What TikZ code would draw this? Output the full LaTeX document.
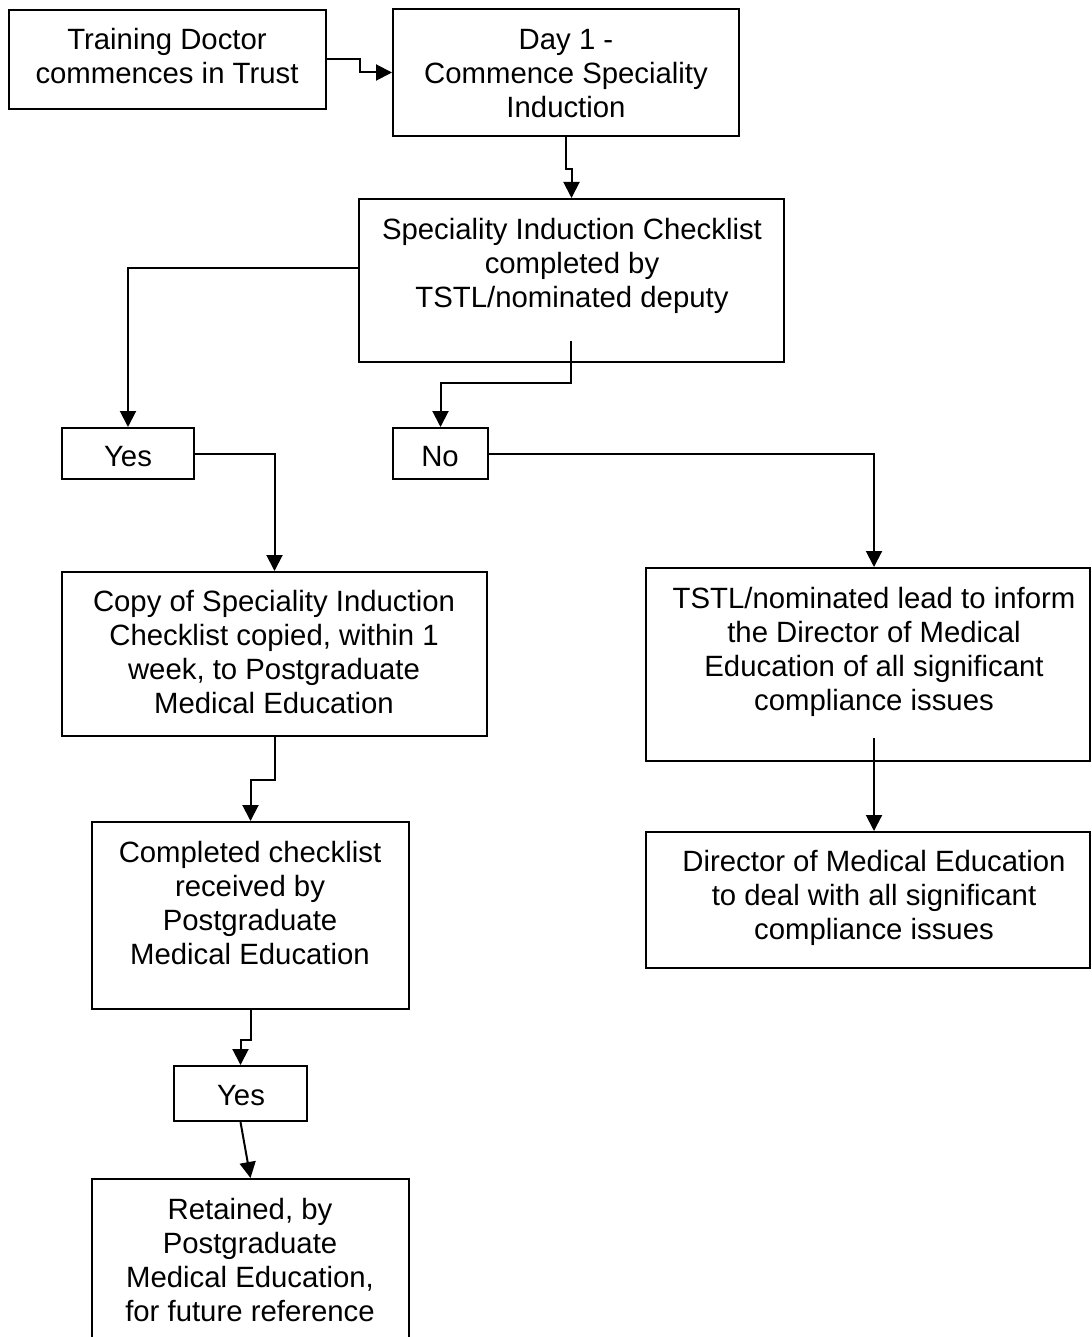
\documentclass[tikz,border=0pt]{standalone}
\usepackage{fontspec}
\setmainfont{Liberation Sans}
\usetikzlibrary{arrows.meta}
\tikzset{
  box/.style={draw=black, line width=1.5pt, rectangle, inner sep=0pt},
  txt/.style={align=center, inner sep=0pt, anchor=north, font=\fontsize{22}{25.5}\selectfont, yshift=-1.5pt},
  arr/.style={draw=black, line width=1.5pt, -{Triangle[length=12pt,width=12pt]}},
  ln/.style={draw=black, line width=1.5pt}
}
\begin{document}
\begin{tikzpicture}[x=0.75pt,y=-0.75pt]
\useasboundingbox (0,0) rectangle (1091,1337);
\clip (0,0) rectangle (1091,1337);
% boxes
\node[box, minimum width=317*0.75pt, minimum height=99*0.75pt] (train) at (167.5,59.5) {};
\node[box, minimum width=346*0.75pt, minimum height=127*0.75pt] (day1) at (566,72.5) {};
\node[box, minimum width=425*0.75pt, minimum height=163*0.75pt] (check) at (571.5,280.5) {};
\node[box, minimum width=132*0.75pt, minimum height=51*0.75pt] (yes1) at (128,453.5) {};
\node[box, minimum width=95*0.75pt, minimum height=51*0.75pt] (no) at (440.5,453.5) {};
\node[box, minimum width=425*0.75pt, minimum height=164*0.75pt] (copy) at (274.5,654) {};
\node[box, minimum width=444*0.75pt, minimum height=193*0.75pt] (tstl) at (868,664.5) {};
\node[box, minimum width=444*0.75pt, minimum height=136*0.75pt] (dir) at (868,900) {};
\node[box, minimum width=317*0.75pt, minimum height=187*0.75pt] (comp) at (250.5,915.5) {};
\node[box, minimum width=133*0.75pt, minimum height=55*0.75pt] (yes2) at (240.5,1093.5) {};
\node[box, minimum width=317*0.75pt, minimum height=171*0.75pt] (ret) at (250.5,1264.5) {};
% texts
\node[txt] (train-t) at (167,23.2) {\strut Training Doctor\\commences in Trust};
\node[txt] (day1-t) at (566,23.2) {\strut Day 1 -\\Commence Speciality\\Induction};
\node[txt] (check-t) at (572,213.2) {\strut Speciality Induction Checklist\\completed by\\TSTL/nominated deputy};
\node[txt] (yes1-t) at (128,440.2) {\strut Yes};
\node[txt] (no-t) at (440,440.2) {\strut No};
\node[txt] (copy-t) at (274,585.2) {\strut Copy of Speciality Induction\\Checklist copied, within 1\\week, to Postgraduate\\Medical Education};
\node[txt] (tstl-t) at (874,582.2) {\strut TSTL/nominated lead to inform\\the Director of Medical\\Education of all significant\\compliance issues};
\node[txt] (dir-t) at (874,845.2) {\strut Director of Medical Education\\to deal with all significant\\compliance issues};
\node[txt] (comp-t) at (250,836.2) {\strut Completed checklist\\received by\\Postgraduate\\Medical Education};
\node[txt] (yes2-t) at (241,1079.2) {\strut Yes};
\node[txt] (ret-t) at (250,1193.2) {\strut Retained, by\\Postgraduate\\Medical Education,\\for future reference};
% connectors
\draw[arr] (train.east) -- ++(33,0) |- (day1.west);
\draw[arr] (day1.south) -- ++(0,32) -| (check.north);
\draw[arr] ([yshift=9.4pt]check.west) -| (yes1.north);
\draw[arr] ([xshift=-0.4pt,yshift=16.5pt]check.south) -- ++(0,42) -| (no.north);
\draw[arr] (yes1.east) -| (copy.north);
\draw[arr] (no.east) -| ([xshift=4.5pt]tstl.north);
\draw[arr] (copy.south) -- ++(0,43) -| (comp.north);
\draw[arr] ([xshift=4.5pt,yshift=18pt]tstl.south) -- ([xshift=4.5pt]dir.north);
\draw[arr] (comp.south) -- ++(0,30) -| (yes2.north);
\draw[arr] (yes2.south) -- (ret.north);
\end{tikzpicture}
\end{document}
